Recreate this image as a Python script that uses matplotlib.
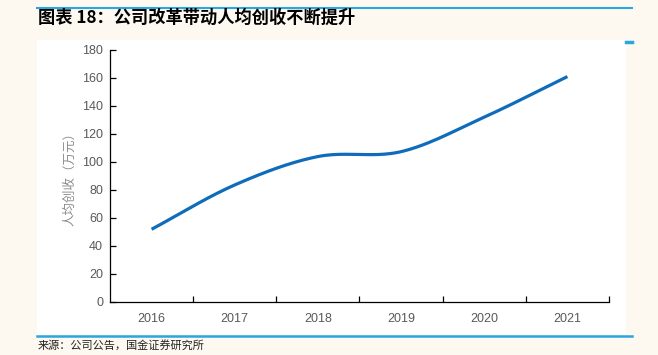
import numpy as np
import matplotlib.pyplot as plt
from matplotlib.patches import Rectangle
from matplotlib.lines import Line2D

plt.rcParams['font.family'] = ['Liberation Sans', 'Noto Sans CJK SC', 'DejaVu Sans']

# data
years = ['2016', '2017', '2018', '2019', '2020', '2021']
revenue_per_head = [51.8, 83.5, 103.8, 107.3, 132.0, 161.0]  # 万元
y_ticks = [0, 20, 40, 60, 80, 100, 120, 140, 160, 180]

title = '图表 18：公司改革带动人均创收不断提升'
source = '来源：公司公告，国金证券研究所'
ylabel = '人均创收（万元）'

W, H = 658, 355
bg = '#fdf9f0'
accent = '#2aa6e0'
line_col = '#0f6cbb'
grey = '#595959'


def smooth(x, y, n=40):
    # Catmull-Rom style smoothing, like the spreadsheet "smoothed line"
    x = np.asarray(x, float)
    y = np.asarray(y, float)
    px = np.concatenate([[2 * x[0] - x[1]], x, [2 * x[-1] - x[-2]]])
    py = np.concatenate([[2 * y[0] - y[1]], y, [2 * y[-1] - y[-2]]])
    xs, ys = [], []
    for i in range(1, len(px) - 2):
        t = np.linspace(0, 1, n)
        p0, p1, p2, p3 = (np.array([px[j], py[j]]) for j in range(i - 1, i + 3))
        c1 = p1 + (p2 - p0) / 6
        c2 = p2 - (p3 - p1) / 6
        pts = ((1 - t) ** 3)[:, None] * p1 + (3 * (1 - t) ** 2 * t)[:, None] * c1 \
            + (3 * (1 - t) * t ** 2)[:, None] * c2 + (t ** 3)[:, None] * p2
        xs.extend(pts[:, 0])
        ys.extend(pts[:, 1])
    return np.array(xs), np.array(ys)


fig = plt.figure(figsize=(W / 100, H / 100), dpi=100, facecolor=bg)

# white panel behind the chart
fig.patches.append(Rectangle((36.5 / W, 1 - 335 / H), (626 - 36.5) / W, (335 - 40) / H,
                             transform=fig.transFigure, facecolor='white', edgecolor='none', zorder=-10))
# blue rules
fig.lines.append(Line2D([37 / W, 632 / W], [1 - 8 / H] * 2, transform=fig.transFigure,
                        color=accent, lw=1.5))
fig.lines.append(Line2D([37 / W, 632 / W], [1 - 336 / H] * 2, transform=fig.transFigure,
                        color=accent, lw=1.8))
fig.lines.append(Line2D([626 / W, 632 / W], [1 - 42 / H] * 2, transform=fig.transFigure,
                        color=accent, lw=2.5))

fig.text(38 / W, 1 - 18 / H, title, fontsize=12.4, fontweight='bold', va='center', ha='left',
         family=['Noto Sans CJK SC', 'DejaVu Sans'], style='italic')
fig.text(38 / W, 1 - 345 / H, source, fontsize=8, va='center', ha='left',
         family=['Noto Sans CJK SC', 'DejaVu Sans'], color='#222222')

ax = fig.add_axes([110 / W, 1 - 301.7 / H, (609 - 110) / W, (301.7 - 50) / H])
ax.set_facecolor('none')

x = np.arange(len(years))
sx, sy = smooth(x, revenue_per_head)
ax.plot(sx, sy, color=line_col, lw=2.3, solid_capstyle='butt')

ax.set_xlim(-0.5, len(years) - 0.5)
ax.set_ylim(0, 180)
ax.set_yticks(y_ticks)
ax.set_xticks(x)
ax.set_xticklabels(years)
ax.set_xticks(np.arange(0.5, len(years) - 0.4, 1), minor=True)

for s in ['top', 'right']:
    ax.spines[s].set_visible(False)
for s in ['left', 'bottom']:
    ax.spines[s].set_color('#000000')
    ax.spines[s].set_linewidth(0.9)

ax.tick_params(axis='y', direction='in', length=4, width=0.9, labelsize=9, labelcolor=grey, pad=5)
ax.tick_params(axis='x', which='major', length=0, labelsize=9, labelcolor=grey, pad=8)
ax.tick_params(axis='x', which='minor', direction='in', length=4, width=0.9)

ax.set_ylabel(ylabel, fontsize=9, color='#8c8c8c', family=['Noto Sans CJK SC', 'DejaVu Sans'],
              labelpad=4)

fig.savefig('out.png', dpi=100, facecolor=bg)
